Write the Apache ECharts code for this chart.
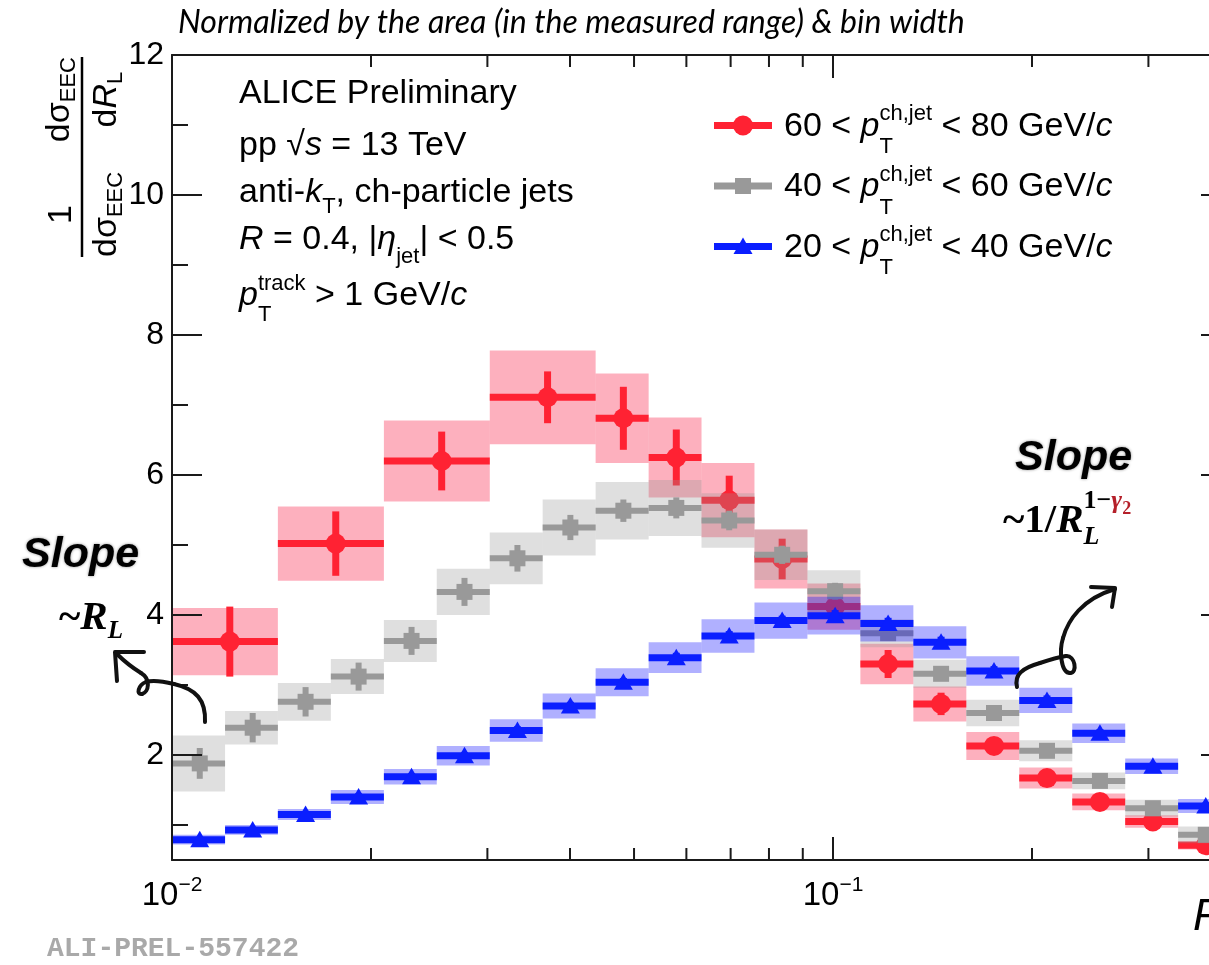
<!DOCTYPE html>
<html>
<head>
<meta charset="utf-8">
<title>EEC vs R_L, ALICE pp 13 TeV</title>
<script src="https://cdn.jsdelivr.net/npm/echarts@6.0.0/dist/echarts.min.js"></script>
<style>
  html, body { margin: 0; padding: 0; background: #fff; }
  #chart { width: 1209px; height: 965px; }
</style>
</head>
<body>
<div id="chart"></div>
<script>
// ---------------- data ----------------
const X_MIN = 0.01, X_MAX = 0.4;
const Y_MIN = 0.5, Y_MAX = 12;

// log-spaced R_L bin edges (20 bins between 0.01 and 0.4)
const binEdges = [0.01, 0.01203, 0.01446, 0.01739, 0.02092, 0.02515, 0.03025, 0.03637,
  0.04374, 0.05261, 0.06325, 0.07606, 0.09147, 0.11, 0.1323, 0.1591, 0.1913, 0.2301,
  0.2767, 0.3327, 0.4];
// the highest-pT selection uses merged bins at small R_L
const redEdges = [0.01, 0.01446, 0.02092, 0.03025, 0.04374, 0.05261, 0.06325, 0.07606,
  0.09147, 0.11, 0.1323, 0.1591, 0.1913, 0.2301, 0.2767, 0.3327, 0.4];

// 60 < pT < 80 GeV/c
const redValues = [3.62, 5.02, 6.20, 7.11, 6.81, 6.25, 5.64, 4.80, 4.12, 3.30, 2.73, 2.13, 1.67, 1.33, 1.05, 0.71];
const redStat   = [0.50, 0.46, 0.42, 0.37, 0.45, 0.40, 0.35, 0.29, 0.22, 0.20, 0.16, 0.10, 0.07, 0.05, 0.04, 0.03];
const redSys    = [0.48, 0.53, 0.58, 0.67, 0.64, 0.57, 0.53, 0.42, 0.33, 0.29, 0.25, 0.20, 0.15, 0.12, 0.09, 0.06];

// 40 < pT < 60 GeV/c
const grayValues = [1.88, 2.39, 2.76, 3.12, 3.63, 4.33, 4.81, 5.25, 5.49, 5.53, 5.35, 4.86, 4.34, 3.74, 3.16, 2.60, 2.06, 1.63, 1.24, 0.86];
const grayStat   = [0.22, 0.21, 0.21, 0.20, 0.20, 0.20, 0.19, 0.18, 0.16, 0.15, 0.14, 0.13, 0.12, 0.10, 0.09, 0.08, 0.07, 0.06, 0.05, 0.05];
const graySys    = [0.40, 0.24, 0.27, 0.25, 0.30, 0.33, 0.37, 0.40, 0.41, 0.40, 0.39, 0.36, 0.30, 0.20, 0.20, 0.19, 0.15, 0.12, 0.12, 0.12];

// 20 < pT < 40 GeV/c
const blueValues = [0.79, 0.93, 1.15, 1.40, 1.69, 1.99, 2.35, 2.70, 3.04, 3.39, 3.70, 3.92, 3.99, 3.88, 3.61, 3.20, 2.78, 2.31, 1.84, 1.27];
const blueStat   = [0.04, 0.04, 0.04, 0.05, 0.05, 0.05, 0.06, 0.06, 0.06, 0.07, 0.07, 0.07, 0.08, 0.08, 0.08, 0.07, 0.07, 0.06, 0.05, 0.05];
const blueSys    = [0.07, 0.07, 0.08, 0.10, 0.11, 0.14, 0.16, 0.18, 0.20, 0.22, 0.24, 0.26, 0.27, 0.26, 0.23, 0.21, 0.18, 0.14, 0.11, 0.10];

const xMajorTicks = [0.01, 0.1];
const xMinorTicks = [0.02, 0.03, 0.04, 0.05, 0.06, 0.07, 0.08, 0.09, 0.2, 0.3];
const yMajorTicks = [2, 4, 6, 8, 10, 12];
const yMinorTicks = [1, 3, 5, 7, 9, 11];

const legendRanges = [['60', '80'], ['40', '60'], ['20', '40']];

// ---------------- styling ----------------
const SANS = "'Liberation Sans', Arial, Helvetica, sans-serif";
const SERIF = "'Liberation Serif', 'Times New Roman', serif";
const MONO = "'Liberation Mono', 'Courier New', monospace";
const NOTE = "Lato, 'Liberation Sans', sans-serif";
const AXIS_COLOR = '#1a1a1a';

const STYLES = {
  red:  { color: '#ff2233', box: 'rgba(250,30,70,0.35)',  symbol: 'circle',   lw: 7 },
  gray: { color: '#999999', box: 'rgba(150,150,150,0.3)', symbol: 'square',   lw: 6 },
  blue: { color: '#0a1eff', box: 'rgba(0,0,255,0.31)',    symbol: 'triangle', lw: 7 }
};

// ---------------- text helpers ----------------
const measureCtx = document.createElement('canvas').getContext('2d');
function fontOf(p) {
  return (p.italic ? 'italic ' : '') + (p.bold ? 'bold ' : '') + p.size + 'px ' + p.family;
}
function widthOf(t, p) { measureCtx.font = fontOf(p); return measureCtx.measureText(t).width; }
function midOf(family) {
  if (family === MONO) return 0.267;
  if (family === SERIF) return 0.338;
  if (family === NOTE) return 0.387;
  return 0.3465;
}
function textEl(x, baseline, p) {
  return {
    type: 'text', x: x, y: baseline - midOf(p.family) * p.size, silent: true,
    style: {
      text: p.t, font: fontOf(p), fill: p.color || '#000',
      align: 'left', verticalAlign: 'middle', textAlign: 'left', textVerticalAlign: 'middle',
      textShadowBlur: p.shadow || 0, textShadowColor: p.shadow ? 'rgba(0,0,0,0.45)' : 'transparent'
    }
  };
}
// lays out text pieces along a baseline; {stack:[{dy, parts}]} puts runs on top of each other
function layRun(x, base, pieces, def, out) {
  let cx = x;
  for (const raw of pieces) {
    if (raw.stack) {
      let w = 0;
      for (const s of raw.stack) w = Math.max(w, layRun(cx, base + (s.dy || 0), s.parts, def, out));
      cx += w;
      continue;
    }
    const p = Object.assign({}, def, raw);
    out.push(textEl(cx, base + (p.dy || 0), p));
    cx += widthOf(p.t, p);
  }
  return cx - x;
}
function runWidth(pieces, def) { return layRun(0, 0, pieces, def, []); }

// ---------------- marks ----------------
function marker(symbol, cx, cy, color) {
  if (symbol === 'circle') return { type: 'circle', shape: { cx: cx, cy: cy, r: 10 }, style: { fill: color } };
  if (symbol === 'square') return { type: 'rect', shape: { x: cx - 8, y: cy - 8, width: 16, height: 16 }, style: { fill: color } };
  return { type: 'polygon', shape: { points: [[cx, cy - 9], [cx + 9.5, cy + 7.5], [cx - 9.5, cy + 7.5]] }, style: { fill: color } };
}

function binnedSeries(name, edges, values, stat, sys, st) {
  const data = values.map((v, i) => [edges[i], edges[i + 1], v, stat[i], sys[i]]);
  return {
    type: 'custom', name: name, xAxisIndex: 0, yAxisIndex: 0,
    dimensions: ['lo', 'hi', 'value', 'stat', 'sys'],
    encode: { x: [0, 1], y: [2] },
    data: data,
    renderItem: function (params, api) {
      const lo = api.value(0), hi = api.value(1), v = api.value(2), es = api.value(3), ey = api.value(4);
      const xc = (lo + hi) / 2;
      const a = api.coord([lo, v]), b = api.coord([hi, v]), c = api.coord([xc, v]);
      const sysTop = api.coord([xc, v + ey])[1], sysBot = api.coord([xc, v - ey])[1];
      const stTop = api.coord([xc, v + es])[1], stBot = api.coord([xc, v - es])[1];
      return {
        type: 'group',
        children: [
          { type: 'rect', shape: { x: a[0], y: sysTop, width: b[0] - a[0], height: sysBot - sysTop }, style: { fill: st.box } },
          { type: 'line', shape: { x1: a[0], y1: c[1], x2: b[0], y2: c[1] }, style: { stroke: st.color, lineWidth: st.lw } },
          { type: 'line', shape: { x1: c[0], y1: stTop, x2: c[0], y2: stBot }, style: { stroke: st.color, lineWidth: st.lw } },
          marker(st.symbol, c[0], c[1], st.color)
        ]
      };
    }
  };
}

// frame ticks on all four sides, plus the power-of-ten labels
const tickData = []
  .concat(xMajorTicks.map(v => [v, Y_MIN, 0]))
  .concat(xMinorTicks.map(v => [v, Y_MIN, 1]))
  .concat(yMajorTicks.map(v => [X_MIN, v, 2]))
  .concat(yMinorTicks.map(v => [X_MIN, v, 3]));

function tickLine(x1, y1, x2, y2) {
  return { type: 'line', shape: { x1: x1, y1: y1, x2: x2, y2: y2 }, style: { stroke: AXIS_COLOR, lineWidth: 2 } };
}

const ticksSeries = {
  type: 'custom', name: 'frame', xAxisIndex: 0, yAxisIndex: 0,
  encode: { x: 0, y: 1 }, data: tickData, silent: true, z: 4,
  renderItem: function (params, api) {
    const xv = api.value(0), yv = api.value(1), kind = api.value(2);
    if (kind <= 1) {
      const len = kind === 0 ? 23 : 12;
      const b = api.coord([xv, Y_MIN]), t = api.coord([xv, Y_MAX]);
      const ch = [tickLine(b[0], b[1], b[0], b[1] - len), tickLine(t[0], t[1], t[0], t[1] + len)];
      if (kind === 0) {
        const e = Math.round(Math.log10(xv));
        const pieces = [{ t: '10', size: 33 }, { t: (e < 0 ? '\u2212' : '') + Math.abs(e), size: 21, dy: -15 }];
        const def = { family: SANS, size: 33 };
        const w = runWidth(pieces, def);
        layRun(b[0] - w / 2, b[1] + 47, pieces, def, ch);
      }
      return { type: 'group', children: ch };
    }
    const len = kind === 2 ? 30 : 16;
    const l = api.coord([X_MIN, yv]), r = api.coord([X_MAX, yv]);
    return { type: 'group', children: [tickLine(l[0], l[1], l[0] + len, l[1]), tickLine(r[0], r[1], r[0] - len, r[1])] };
  }
};

// ---------------- annotations ----------------
const g = [];

// note above the frame
const NOTE_TEXT = 'Normalized by the area (in the measured range) & bin width';
const noteSize = 100 * 787 / widthOf(NOTE_TEXT, { italic: true, size: 100, family: NOTE });
layRun(178, 35, [{ t: NOTE_TEXT }], { italic: true, size: noteSize, family: NOTE }, g);

// y-axis title, written bottom-to-top
(function () {
  const local = [];
  const def = { family: SANS, size: 34 };
  const dsig = [{ t: 'd\u03c3' }, { t: 'EEC', size: 22, dy: 6 }];
  const w1 = runWidth(dsig, def);
  // 1 / dsigma_EEC
  layRun(0, 36, dsig, def, local);
  const w1n = widthOf('1', def);
  layRun(w1 / 2 - w1n / 2, -9, [{ t: '1' }], def, local);
  // dsigma_EEC / dR_L
  const xs = 200 - w1;
  layRun(xs, -11, dsig, def, local);
  const dR = [{ t: 'd' }, { t: 'R', italic: true }, { t: 'L', size: 22, dy: 6 }];
  const w2 = runWidth(dR, def);
  layRun(xs + (w1 - w2) / 2, 36, dR, def, local);
  local.push({ type: 'line', shape: { x1: 0, y1: 0, x2: 200, y2: 0 }, style: { stroke: '#000', lineWidth: 2.5 } });
  g.push({ type: 'group', x: 82, y: 257, rotation: Math.PI / 2, children: local });
})();

// collaboration / selection block
(function () {
  const def = { family: SANS, size: 34 };
  const x0 = 239;
  layRun(x0, 105, [{ t: 'ALICE Preliminary' }], def, g);
  layRun(x0, 157, [{ t: 'pp ' }, { t: '\u221a' }, { t: 's', italic: true }, { t: ' = 13 TeV' }], def, g);
  layRun(x0, 204, [{ t: 'anti-' }, { t: 'k', italic: true }, { t: 'T', size: 22, dy: 11 }, { t: ', ch-particle jets' }], def, g);
  layRun(x0, 251, [{ t: 'R', italic: true }, { t: ' = 0.4, |' }, { t: '\u03b7', italic: true },
    { t: 'jet', size: 22, dy: 14 }, { t: '| < 0.5' }], def, g);
  layRun(x0, 307, [{ t: 'p', italic: true },
    { stack: [{ dy: -15, parts: [{ t: 'track', size: 22 }] }, { dy: 16, parts: [{ t: 'T', size: 22 }] }] },
    { t: ' > 1 GeV/' }, { t: 'c', italic: true }], def, g);
})();

// legend
(function () {
  const def = { family: SANS, size: 34 };
  const keys = ['red', 'gray', 'blue'];
  legendRanges.forEach((rg, i) => {
    const base = 138 + i * 60.5;
    const yc = base - 12.5;
    const st = STYLES[keys[i]];
    g.push({ type: 'line', shape: { x1: 714, y1: yc, x2: 772, y2: yc }, style: { stroke: st.color, lineWidth: 7 } });
    g.push(marker(st.symbol, 743, yc, st.color));
    layRun(784, base, [{ t: rg[0] + ' < ' }, { t: 'p', italic: true },
      { stack: [{ dy: -16, parts: [{ t: 'ch,jet', size: 22 }] }, { dy: 17, parts: [{ t: 'T', size: 22 }] }] },
      { t: ' < ' + rg[1] + ' GeV/' }, { t: 'c', italic: true }], def, g);
  });
})();

// slope remarks with hand-drawn arrows
(function () {
  const slopeDef = { family: SANS, size: 43, bold: true, italic: true, shadow: 3 };
  layRun(22, 570, [{ t: 'Slope' }], slopeDef, g);
  layRun(1015, 473, [{ t: 'Slope' }], slopeDef, g);

  const mathDef = { family: SERIF, size: 41, bold: true, italic: true };
  layRun(59, 632, [{ t: '~', italic: false }, { t: 'R' }, { t: 'L', size: 25, dy: 8 }], mathDef, g);
  layRun(1003, 535, [{ t: '~', italic: false }, { t: '1/', italic: false }, { t: 'R' },
    { stack: [
      { dy: -25, parts: [{ t: '1\u2212', size: 26, italic: false }, { t: '\u03b3', size: 26, color: '#b5202a' },
        { t: '2', size: 18, italic: false, dy: 5, color: '#b5202a' }] },
      { dy: 11, parts: [{ t: 'L', size: 26 }] }] }], mathDef, g);

  const pen = { stroke: '#111', lineWidth: 4, fill: null, lineCap: 'round', lineJoin: 'round' };
  const curve = (p) => ({ type: 'bezierCurve',
    shape: { x1: p[0], y1: p[1], cpx1: p[2], cpy1: p[3], cpx2: p[4], cpy2: p[5], x2: p[6], y2: p[7] }, style: pen });
  const stroke = (pts) => ({ type: 'polyline', shape: { points: pts }, style: pen });
  // left arrow, with its small loop, pointing up-left
  [[205, 722, 206, 700, 196, 689, 174, 684],
   [174, 684, 162, 681, 152, 680, 146, 682],
   [146, 682, 138, 685, 136, 695, 142, 694],
   [142, 694, 149, 692, 151, 679, 141, 673],
   [141, 673, 133, 668, 125, 662, 118, 655]].forEach(p => g.push(curve(p)));
  g.push(stroke([[117, 681], [115, 652], [144, 652]]));
  // right arrow, pointing up-right
  [[1017, 687, 1014, 675, 1022, 668, 1040, 663],
   [1040, 663, 1052, 659, 1060, 657, 1066, 656],
   [1066, 656, 1075, 655, 1078, 673, 1070, 673],
   [1070, 673, 1061, 673, 1059, 651, 1063, 638],
   [1063, 638, 1068, 620, 1082, 599, 1115, 589]].forEach(p => g.push(curve(p)));
  g.push(stroke([[1091, 587], [1115, 588], [1112, 607]]));
})();

// preliminary figure tag and the visible part of the x-axis title
layRun(47, 956, [{ t: 'ALI-PREL-557422' }], { family: MONO, size: 28, bold: true, color: '#a9a9a9' }, g);
layRun(1193, 933, [{ t: 'R', italic: true }, { t: 'L', size: 28, dy: 8 }], { family: SANS, size: 44 }, g);

g.forEach(el => { el.z = 10; });

// ---------------- chart ----------------
const logAxis = (pos) => ({
  type: 'log', logBase: 10, min: X_MIN, max: X_MAX, position: pos, z: 5,
  axisLine: { show: true, onZero: false, lineStyle: { color: AXIS_COLOR, width: 2 } },
  axisTick: { show: false }, axisLabel: { show: false }, splitLine: { show: false }
});

const option = {
  animation: false,
  backgroundColor: '#ffffff',
  grid: { left: 172, top: 55, width: 1059, height: 805, containLabel: false, outerBoundsMode: 'none' },
  xAxis: [logAxis('bottom'), logAxis('top')],
  yAxis: [
    {
      type: 'value', min: Y_MIN, max: Y_MAX, position: 'left', z: 5,
      axisLine: { show: true, onZero: false, lineStyle: { color: AXIS_COLOR, width: 2 } },
      axisTick: { show: false }, splitLine: { show: false },
      axisLabel: {
        customValues: yMajorTicks, margin: 8, color: '#000', fontSize: 32, fontFamily: SANS,
        formatter: v => (yMajorTicks.indexOf(v) >= 0 ? String(v) : '')
      }
    },
    {
      type: 'value', min: Y_MIN, max: Y_MAX, position: 'right', z: 5,
      axisLine: { show: true, onZero: false, lineStyle: { color: AXIS_COLOR, width: 2 } },
      axisTick: { show: false }, axisLabel: { show: false }, splitLine: { show: false }
    }
  ],
  series: [
    binnedSeries('60-80', redEdges, redValues, redStat, redSys, STYLES.red),
    binnedSeries('40-60', binEdges, grayValues, grayStat, graySys, STYLES.gray),
    binnedSeries('20-40', binEdges, blueValues, blueStat, blueSys, STYLES.blue),
    ticksSeries
  ],
  graphic: { elements: g }
};

const chart = echarts.init(document.getElementById('chart'), null, { renderer: 'canvas' });
chart.setOption(option);
</script>
</body>
</html>
